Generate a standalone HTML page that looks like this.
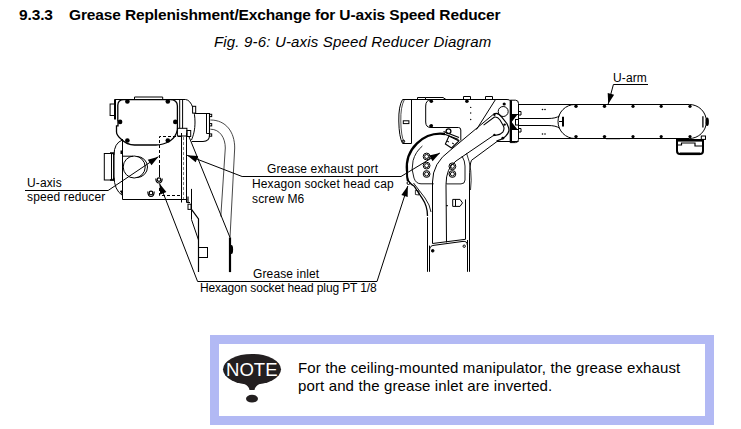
<!DOCTYPE html>
<html><head><meta charset="utf-8">
<style>
html,body{margin:0;padding:0;background:#fff;width:741px;height:429px;overflow:hidden;position:relative;font-family:"Liberation Sans",sans-serif;color:#000}
.t{position:absolute;white-space:nowrap;line-height:1}
#h1{left:19px;top:6.5px;font-size:15.5px;font-weight:bold;letter-spacing:-0.13px}
#h1 .n{display:inline-block;width:50px}
#cap{left:214px;top:34px;font-size:15px;font-style:italic;letter-spacing:0.17px}
#note{position:absolute;left:210px;top:335px;width:504px;height:90px;background:#b2b9f4}
#noteIn{position:absolute;left:9px;top:9px;right:9px;bottom:9px;background:#fff}
#ntext{left:298px;top:359px;font-size:15px;line-height:18px;letter-spacing:0.13px}
.s{font-size:12px;line-height:14.7px;letter-spacing:0.13px}
svg{position:absolute;left:0;top:0}
</style></head><body>
<div class="t" id="h1"><span class="n">9.3.3</span>Grease Replenishment/Exchange for U-axis Speed Reducer</div>
<div class="t" id="cap">Fig. 9-6: U-axis Speed Reducer Diagram</div>
<div class="t s" id="l1" style="left:27px;top:176px">U-axis</div>
<div class="t s" id="l2" style="left:27px;top:190px">speed reducer</div>
<div class="t s" id="l3" style="left:267px;top:162px">Grease exhaust port</div>
<div class="t s" id="l4" style="left:252px;top:177px">Hexagon socket head cap<br>screw M6</div>
<div class="t s" id="l5" style="left:253px;top:267px">Grease inlet</div>
<div class="t s" id="l6" style="left:200px;top:281px;letter-spacing:-0.13px">Hexagon socket head plug PT 1/8</div>
<div class="t s" id="l7" style="left:613px;top:71px">U-arm</div>
<svg width="741" height="429" viewBox="0 0 741 429">
<g fill="none" stroke="#000" stroke-width="1">
<path d="M114.5 99.5 H185.5 C192 100 195 112 195 122 C195 130 193.5 135 191.5 140"/>
<path d="M179.7 99.5 V128.3 M182.6 99.5 V128.3"/>
<path d="M115 99.5 V119.5" stroke-width="2"/>
<rect x="110.1" y="104" width="4.5" height="11.5"/>
<path d="M134.5 99.5 V97 H162.7 V99.5"/>
<path d="M117.8 105.3 Q118 99.6 124 99.6 H170 Q177.4 99.6 177.4 106 V129.6 Q176 137 170 141 Q163 145 156 145 H134.5 Q127 145 121 139 Q116.5 135 116.5 132 V125.8 H118 V120.6 H117.8 Z" stroke-width="1.3"/>
<!-- right box -->
<path d="M194.6 113.5 H209.5 V135 Q209.5 141.5 203 141.5 H191.8" stroke-width="1.1"/>
<path d="M206.5 113.5 V133.5 H210"/>
<rect x="209.5" y="114.3" width="2.2" height="2.3"/><rect x="209.5" y="123.6" width="2.2" height="2.3"/><rect x="209.5" y="133.9" width="2.2" height="2.3"/>
<rect x="192.6" y="106.3" width="3.1" height="6.8" fill="#fff"/>
<!-- pipe -->
<path d="M210.4 120 C226 120 234.7 132 234.7 148 L230 237.5" stroke-width="0.9" stroke="#333"/>
<path d="M210.4 129.2 C220 129.2 225.3 138 225.3 148 L220.8 216.5" stroke-width="0.9" stroke="#333"/>
<path d="M189 136.7 L230 237.5"/>
<path d="M230 237.5 V272.1" stroke-width="2.2"/>
<ellipse cx="231.5" cy="249.5" rx="1.6" ry="4.5" fill="#000" stroke="none"/>
<!-- column -->
<path d="M181.5 133 V202.5 M186.5 133 V202.5"/>
<path d="M183.5 137 V200" stroke-dasharray="3 2" stroke-width="0.7" stroke="#444"/>
<rect x="177.4" y="128.3" width="9.5" height="7.7"/>
<rect x="186.9" y="130.5" width="3.8" height="6"/>
<!-- dashed rect -->
<path d="M181 136.5 H159.5 V165" stroke-dasharray="3 2"/><path d="M159.5 165 V177"/><path d="M159.5 188 V195.5 H181" stroke-dasharray="3 2"/>
<!-- lower body -->
<path d="M122.5 139 V199.5 H187.3"/><path d="M123 156.2 H133"/><path d="M120.5 191 L122.5 194.5 V191 Z" fill="#000"/>
<rect x="104.3" y="153.5" width="9.3" height="26.5"/><path d="M110 153 H113.6 V155 M110 180 H113.6 V178" stroke-width="1.5"/>
<path d="M111.5 153 V180"/>
<rect x="120.5" y="150.5" width="2.5" height="3.5" fill="#000" stroke="none"/>
<path d="M122.5 140 Q114 143 114 155 V176 Q114 190 122.5 195.5"/>
<circle cx="134.2" cy="167" r="11"/>
<path d="M137 156.5 A10.5 10.5 0 0 1 137 177.5"/>
<!-- small parts under column -->
<rect x="188" y="204.2" width="3" height="5.2"/><path d="M188 196.5 V203 M186.5 202.5 H190" stroke-width="1.2"/>
<path d="M191.5 188.9 V209.4"/>
<path d="M191.5 209.4 L198.5 219 V272.1" stroke-width="1.2"/>
<path d="M191.5 209.4 V219.6 L198.5 240"/>
<rect x="198.5" y="247.5" width="9" height="10"/>

<!-- bolts -->
<circle cx="159" cy="179.6" r="1.8" stroke-width="1.2"/><path d="M155.8 178.5 Q156 183 159 183 Q162 183 162.2 178.5" stroke-width="1.2"/>
<circle cx="151" cy="193" r="1.8" stroke-width="1.2"/><path d="M147.8 191.5 Q148 196.5 151 196.5 Q154 196.5 154.2 191.5" stroke-width="1.2"/>
</g>
<g fill="#000">
<circle cx="127.4" cy="101.4" r="2.3"/><circle cx="167.8" cy="101.4" r="2.3"/>
<circle cx="120.1" cy="121.9" r="2.3"/><circle cx="175.3" cy="121.9" r="2.3"/>
<circle cx="127.4" cy="140.5" r="2.3"/><circle cx="167.8" cy="140.5" r="2.3"/>
</g>

<g fill="none" stroke="#000" stroke-width="1">
<path d="M495 99.5 H402.6 Q398.5 106 398.8 121 Q399 137 402.6 143.5 H411.5"/>
<path d="M404.2 100 Q400.5 107 400.8 121 Q401 136 404.2 142.6" stroke-width="0.7"/>
<path d="M411.5 99.5 V143.5"/>
<path d="M417.5 99.5 V97.5 H425.5 V99.5 M425.5 97.5 H443 L446 99.5 M463.5 99.5 V96.5 H470.5 V99.5 M485.5 99.5 V96.5 H492.5 V99.5"/>
<path d="M431 99.8 Q425.7 100 425.7 106 V122 Q425.7 127.5 431 127.5 H458.5 Q460.8 127.5 460.8 130 V140.5"/>
<rect x="403.3" y="120.8" width="5.6" height="2.8"/>
<circle cx="403.5" cy="141.3" r="1.2"/>
<!-- joint -->
<path d="M495 99.5 H507 Q510 99.5 510.5 101 M495.5 99.5 L476.5 129.5"/>
<path d="M510.2 100.2 H515.5 Q518.5 100.2 518.5 103.5 V139.3 Q518.5 142.6 515.5 142.6 H510.2 Z"/>
<path d="M511 100.2 V142.6" stroke-width="2"/>
<path d="M511 114.5 H518.5 M511 129.5 H518.5"/><path d="M512 114.5 L517.5 114.5 L512 121.5 Z M512 122.5 L512 129.5 L517.5 129.5 Z" fill="#000" stroke="none"/><rect x="515.5" y="119.5" width="3" height="5.5" fill="#fff"/>
<circle cx="503.2" cy="111.5" r="5"/>
<path d="M493.9 113.9 Q498 111.8 501.8 117.1 L507 123.7 Q509.5 129 508.8 131 Q508 134 506 135.8 Q503 139 500.4 139.6 L496.5 141" stroke-width="1.2"/>
<path d="M483.6 125.1 L494.4 117.1 Q497.5 116.5 500 120 L503.2 125.6 Q505 129 502.8 132.1 Q500.5 134.5 497.6 134.9 L493 135.8" stroke-width="1.1"/>
<!-- lower arm S band -->
<path d="M493.9 113.9 L450 150.5 Q432.5 163 432.5 182 V243.5"/>
<path d="M493 135.8 L456 161 Q446 168 446 184.5 L446.5 242.4"/>
<path d="M518.5 141.5 H497 L471.5 160.3 Q469.5 164 469.5 180 V271.8"/>
<path d="M466.5 153 Q473 170 470.5 190" stroke-width="0.8"/>
<path d="M432.5 243.5 L465.5 239.3 V199.4"/>
<path d="M427.5 217.3 V271.8 M429.5 245.6 V271.8 M467.5 240 V271.8"/>
<path d="M429.6 250 Q429.6 245.6 434 245.3 L463 241.4 Q467.3 241 467.3 245"/>
<path d="M407.5 178 Q408.5 183 414 186 L422.4 198.6 Q427.5 206 427.5 216" stroke-width="1.3"/><path d="M413.5 183 L425 198 Q430 205 431 212" stroke-width="0.9"/><path d="M415.4 190.2 L418.9 191 V195 L415.4 194.5 Z" stroke-width="0.8"/><path d="M446.2 183.9 H461 Q465 183.9 465 180 V166 Q465 161 462 156" stroke-width="0.9"/>
<circle cx="432.7" cy="250.8" r="1.3" fill="#000"/>
<circle cx="464.2" cy="246.2" r="1.2"/>
<path d="M452.7 199.4 H460 L462.5 202.9 L460 206.4 H452.7 Z M455.5 199.4 V206.4"/>
<path d="M446 205.7 H448"/>
<!-- turning base -->
<path d="M407 171.2 A33.9 33.9 0 0 1 445 134" stroke-width="2.3"/>
<path d="M407 171 Q406.8 177 407.8 181" stroke-width="2"/>
<path d="M422.4 146 A28.5 28.5 0 0 0 414 178.1 Q416 183.8 421 183.8 H433.7" stroke-width="0.9"/>
<circle cx="426.6" cy="156.5" r="3.4"/><circle cx="426.6" cy="156.5" r="2"/>
<circle cx="426.6" cy="165.6" r="3.4"/><circle cx="426.6" cy="165.6" r="2"/>
<circle cx="426.6" cy="174" r="3.4"/><circle cx="426.6" cy="174" r="2"/>
<circle cx="452.4" cy="166.3" r="3.4"/><circle cx="452.4" cy="166.3" r="2"/>
<circle cx="452.4" cy="174" r="3.4"/><circle cx="452.4" cy="174" r="2"/>
<path d="M430 127.3 V125"/>
<path d="M445.4 144 L449 136 L459 141 L451.5 148 Z" stroke-width="1.1"/>
<path d="M443.5 131.5 L459 137.5 M444 134 L458.5 139.5" stroke-width="1.3"/><path d="M447 141 L449 142 M452 143 L454 144" stroke-width="1"/>
<circle cx="448.5" cy="131.2" r="2.4" stroke-width="1.3"/>
<circle cx="408.5" cy="183" r="1.5"/>
<!-- U-arm forearm -->
<path d="M518.5 104.5 H689.4 A17 17 0 0 1 689.4 138.5 H518.5"/>
<path d="M575 104.5 A17 17 0 0 0 575 138.5"/><path d="M518.5 118.5 H548 Q556 118.5 559.5 115.8 M518.5 125.5 H548 Q556 125.5 559.5 128.2"/><path d="M559 121.5 H563"/>
<path d="M563 116.8 V126.6" stroke-width="2"/>
<path d="M518.5 111.5 H521 V115 H518.5 M518.5 128.5 H521 V132 H518.5"/>
<path d="M702.9 116.3 V127.4" stroke-width="1.3"/>
<path d="M677 139 V151 Q677 154 680 154 H700 Q703 154 703 151 V139" stroke-width="2"/><path d="M676 140.3 H703.5" stroke-width="2.6"/><path d="M678 145 H681.5 V143 H695 V146 H703" stroke-width="1.2"/>
<path d="M680 153.8 H700" stroke-width="2.6"/>
<rect x="701.3" y="136" width="4.2" height="3.4"/>
<path d="M606 138.6 H620" stroke-width="1.2"/>
</g>
<g fill="#000">
<circle cx="576" cy="106.3" r="1.7"/><circle cx="604.5" cy="106.3" r="1.7"/><circle cx="633" cy="106.3" r="1.6"/><circle cx="661.2" cy="106.3" r="1.6"/><circle cx="690" cy="106.3" r="1.6"/>
<circle cx="576" cy="136.6" r="1.7"/><circle cx="604.5" cy="136.6" r="1.7"/><circle cx="633" cy="136.6" r="1.6"/><circle cx="661.2" cy="136.6" r="1.6"/><circle cx="690" cy="136.6" r="1.6"/>
<circle cx="431.3" cy="101.2" r="1.8"/><circle cx="431.3" cy="125.7" r="1.8"/><circle cx="466.9" cy="101.2" r="1.8"/><circle cx="504.2" cy="104" r="1.6"/>
<circle cx="494.4" cy="114.8" r="1.2"/><circle cx="504.6" cy="124.6" r="1.2"/><circle cx="494.4" cy="134.9" r="1.2"/><circle cx="502.8" cy="138.2" r="1.4"/>
<circle cx="470.7" cy="107.4" r="0.7"/><circle cx="470.7" cy="113" r="0.7"/><circle cx="470.7" cy="119.5" r="0.7"/>
<circle cx="542.5" cy="109.5" r="0.8"/><circle cx="545" cy="109.5" r="0.8"/><circle cx="542.5" cy="134" r="0.8"/><circle cx="545" cy="134" r="0.8"/>
<ellipse cx="707.2" cy="121.8" rx="1.7" ry="4.3"/>
</g>
<g fill="none" stroke="#000" stroke-width="1"><path d="M25 190.5 H108.1 L158.4 156.7"/><path d="M187.1 155.3 L242.1 176.5 H401 L439.9 153"/><path d="M159.5 183.5 L197.6 281.5 H377 L407.8 186"/><path d="M648 84.5 H613.4 L608.2 104"/></g><polygon points="158.4,156.7 151.5,165.3 147.8,159.8" fill="#000" stroke="none"/><polygon points="187.1,155.3 198.1,156.0 195.7,162.2" fill="#000" stroke="none"/><polygon points="439.9,153.0 432.6,161.3 429.2,155.6" fill="#000" stroke="none"/><polygon points="159.5,183.5 166.4,192.1 160.2,194.5" fill="#000" stroke="none"/><polygon points="407.8,186.0 407.7,197.0 401.4,195.0" fill="#000" stroke="none"/><polygon points="608.2,104.0 607.7,93.0 614.1,94.7" fill="#000" stroke="none"/></svg>
<div id="note"><div id="noteIn"></div></div>
<svg width="741" height="429" viewBox="0 0 741 429">
<ellipse cx="252" cy="369.3" rx="29" ry="15.4" fill="#231f20"/>
<path d="M243 383 Q249 386 249.5 390 H254.5 Q255 386 261 383 Z" fill="#231f20"/>
<ellipse cx="252" cy="398.7" rx="6" ry="3.9" fill="#231f20"/>
<text x="226" y="375.5" font-family="Liberation Sans" font-size="18.5" fill="#fff" textLength="51.5" lengthAdjust="spacingAndGlyphs">NOTE</text>
</svg>
<div class="t" id="ntext">For the ceiling-mounted manipulator, the grease exhaust<br>port and the grease inlet are inverted.</div>
</body></html>
